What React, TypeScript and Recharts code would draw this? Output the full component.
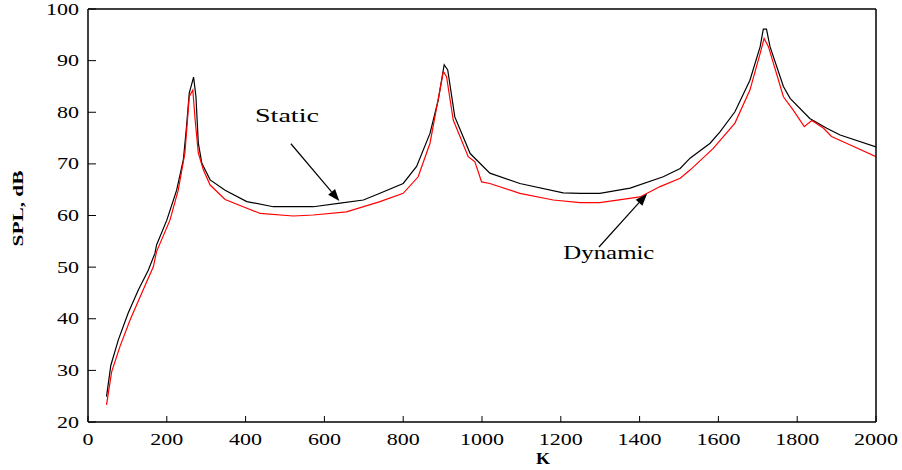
import React from "react";
import {
  LineChart,
  Line,
  XAxis,
  YAxis,
  ReferenceLine,
  ReferenceDot,
  Label,
} from "recharts";

// Static response: wavenumber K and sound pressure level (dB)
const staticK = [
  47, 58, 77, 102, 128, 153, 170, 174, 200, 225, 242, 250, 257, 268, 274, 280,
  289, 310, 348, 403, 470, 572, 640, 699, 741, 800, 834, 868, 889, 904, 913,
  931, 970, 1020, 1096, 1206, 1249, 1299, 1376, 1460, 1503, 1528, 1579, 1604,
  1642, 1680, 1706, 1714, 1722, 1731, 1765, 1782, 1832, 1875, 1909, 2000,
];
const staticSpl = [
  24.9, 31.0, 35.9, 41.1, 45.6, 49.4, 52.7, 54.3, 59.1, 64.9, 70.8, 77.2, 83.7,
  86.8, 83.0, 74.0, 70.1, 66.9, 64.9, 62.7, 61.7, 61.7, 62.4, 63.0, 64.3, 66.2,
  69.5, 75.9, 82.4, 89.2, 88.2, 79.1, 72.0, 68.2, 66.2, 64.4, 64.3, 64.3, 65.3,
  67.5, 69.1, 71.1, 74.0, 76.2, 80.1, 86.2, 92.7, 96.1, 96.1, 92.7, 85.0, 82.7,
  78.8, 76.9, 75.6, 73.3,
];

// Dynamic response
const dynamicK = [
  47, 60, 81, 107, 136, 166, 174, 208, 229, 246, 257, 266, 272, 280, 293, 310,
  348, 437, 521, 572, 656, 741, 800, 838, 868, 902, 910, 927, 965, 982, 999,
  1020, 1096, 1181, 1249, 1299, 1401, 1452, 1503, 1528, 1587, 1642, 1680, 1706,
  1716, 1727, 1765, 1790, 1818, 1837, 1867, 1887, 1925, 2000,
];
const dynamicSpl = [
  23.3, 29.7, 34.6, 39.8, 44.9, 50.1, 53.0, 59.1, 64.9, 72.1, 83.0, 84.3, 78.5,
  72.1, 68.8, 65.9, 63.1, 60.4, 59.9, 60.1, 60.7, 62.7, 64.3, 67.5, 74.0, 87.9,
  86.9, 78.5, 71.4, 70.4, 66.5, 66.2, 64.3, 63.0, 62.5, 62.5, 63.6, 65.6, 67.2,
  68.8, 73.0, 77.9, 84.3, 91.4, 94.3, 92.7, 83.0, 80.4, 77.2, 78.4, 76.9, 75.3,
  74.0, 71.4,
];

const kTicks = [0, 200, 400, 600, 800, 1000, 1200, 1400, 1600, 1800, 2000];
const splTicks = [20, 30, 40, 50, 60, 70, 80, 90, 100];

// Annotation anchors in data coordinates
const staticLabel = { k: 505, spl: 78.1, text: "Static" };
const staticArrow = { fromK: 515, fromSpl: 73.9, toK: 638, toSpl: 62.8 };
const dynamicLabel = { k: 1322, spl: 51.6, text: "Dynamic" };
const dynamicArrow = { fromK: 1297, fromSpl: 53.9, toK: 1419, toSpl: 64.2 };

const staticData = staticK.map((k, i) => ({ k, spl: staticSpl[i] }));
const dynamicData = dynamicK.map((k, i) => ({ k, spl: dynamicSpl[i] }));

const FONT = "'Liberation Serif', 'Times New Roman', serif";
const DIGIT_W = 11;

const BottomTick = (props: any) => {
  const { x, y, payload } = props;
  const s = String(payload.value);
  return (
    <g>
      <line x1={x} y1={y} x2={x} y2={y - 6} stroke="#000" strokeWidth={1} />
      <text
        x={x}
        y={y + 23}
        textAnchor="middle"
        fontFamily={FONT}
        fontSize={16}
        fill="#000"
        textLength={s.length * DIGIT_W}
        lengthAdjust="spacingAndGlyphs"
      >
        {s}
      </text>
    </g>
  );
};

const TopTick = (props: any) => {
  const { x, y } = props;
  return <line x1={x} y1={y} x2={x} y2={y + 6} stroke="#000" strokeWidth={1} />;
};

const LeftTick = (props: any) => {
  const { x, y, payload } = props;
  const s = String(payload.value);
  return (
    <g>
      <line x1={x} y1={y} x2={x + 8} y2={y} stroke="#000" strokeWidth={1} />
      <text
        x={x - 9}
        y={y + 5.5}
        textAnchor="end"
        fontFamily={FONT}
        fontSize={16}
        fill="#000"
        textLength={s.length * DIGIT_W}
        lengthAdjust="spacingAndGlyphs"
      >
        {s}
      </text>
    </g>
  );
};

const RightTick = (props: any) => {
  const { x, y } = props;
  return <line x1={x} y1={y} x2={x - 8} y2={y} stroke="#000" strokeWidth={1} />;
};

const Arrow = (props: any) => {
  const { x1, y1, x2, y2 } = props;
  const dx = x2 - x1;
  const dy = y2 - y1;
  const len = Math.sqrt(dx * dx + dy * dy);
  const ux = dx / len;
  const uy = dy / len;
  const headL = 12;
  const headW = 4.5;
  const bx = x2 - ux * headL;
  const by = y2 - uy * headL;
  const pts = `${x2},${y2} ${bx - uy * headW},${by + ux * headW} ${bx + uy * headW},${by - ux * headW}`;
  return (
    <g>
      <line x1={x1} y1={y1} x2={bx} y2={by} stroke="#000" strokeWidth={1.2} />
      <polygon points={pts} fill="#000" />
    </g>
  );
};

const textShape = (text: string, width: number) => (props: any) => {
  const { cx, cy } = props;
  return (
    <text
      x={cx}
      y={cy}
      textAnchor="middle"
      fontFamily={FONT}
      fontSize={18}
      fill="#000"
      textLength={width}
      lengthAdjust="spacingAndGlyphs"
    >
      {text}
    </text>
  );
};

const YTitle = (props: any) => {
  const { viewBox } = props;
  const cx = viewBox.x + 18;
  const cy = viewBox.y + viewBox.height / 2 - 7;
  return (
    <text
      x={cx}
      y={cy}
      transform={`rotate(-90, ${cx}, ${cy})`}
      textAnchor="middle"
      dominantBaseline="central"
      fontFamily={FONT}
      fontWeight="bold"
      fontSize={15}
      fill="#000"
      textLength={76}
      lengthAdjust="spacingAndGlyphs"
    >
      SPL, dB
    </text>
  );
};

const XTitle = (props: any) => {
  const { viewBox } = props;
  const cx = viewBox.x + viewBox.width / 2 + 61;
  return (
    <text
      x={cx}
      y={viewBox.y + 42}
      textAnchor="middle"
      fontFamily={FONT}
      fontWeight="bold"
      fontSize={16}
      fill="#000"
      textLength={14}
      lengthAdjust="spacingAndGlyphs"
    >
      K
    </text>
  );
};

export default function App() {
  return (
    <div style={{ position: "absolute", left: 0, top: 0, background: "#fff" }}>
      <LineChart
        width={902}
        height={470}
        margin={{ top: 4, right: 16, bottom: 6, left: 0 }}
      >
        <XAxis
          dataKey="k"
          type="number"
          domain={[0, 2000]}
          ticks={kTicks}
          interval={0}
          allowDataOverflow
          height={42}
          tickSize={0}
          tickMargin={0}
          tickLine={false}
          axisLine={{ stroke: "#000", strokeWidth: 1.5 }}
          tick={<BottomTick />}
        >
          <Label content={<XTitle />} />
        </XAxis>
        <XAxis
          xAxisId="top"
          orientation="top"
          dataKey="k"
          type="number"
          domain={[0, 2000]}
          ticks={kTicks}
          interval={0}
          height={5}
          tickSize={0}
          tickMargin={0}
          tickLine={false}
          axisLine={{ stroke: "#000", strokeWidth: 1.5 }}
          tick={<TopTick />}
        />
        <YAxis
          type="number"
          domain={[20, 100]}
          ticks={splTicks}
          interval={0}
          allowDataOverflow
          width={88}
          tickSize={0}
          tickMargin={0}
          tickLine={false}
          axisLine={{ stroke: "#000", strokeWidth: 1.5 }}
          tick={<LeftTick />}
        >
          <Label content={<YTitle />} />
        </YAxis>
        <YAxis
          yAxisId="right"
          orientation="right"
          type="number"
          domain={[20, 100]}
          ticks={splTicks}
          interval={0}
          width={10}
          tickSize={0}
          tickMargin={0}
          tickLine={false}
          axisLine={{ stroke: "#000", strokeWidth: 1.5 }}
          tick={<RightTick />}
        />
        <Line
          data={staticData}
          dataKey="spl"
          type="linear"
          stroke="#000000"
          strokeWidth={1.2}
          dot={false}
          isAnimationActive={false}
        />
        <Line
          data={dynamicData}
          dataKey="spl"
          type="linear"
          stroke="#ff0000"
          strokeWidth={1.2}
          dot={false}
          isAnimationActive={false}
        />
        <ReferenceLine
          segment={[
            { x: staticArrow.fromK, y: staticArrow.fromSpl },
            { x: staticArrow.toK, y: staticArrow.toSpl },
          ]}
          shape={Arrow}
        />
        <ReferenceLine
          segment={[
            { x: dynamicArrow.fromK, y: dynamicArrow.fromSpl },
            { x: dynamicArrow.toK, y: dynamicArrow.toSpl },
          ]}
          shape={Arrow}
        />
        <ReferenceDot
          x={staticLabel.k}
          y={staticLabel.spl}
          r={0}
          shape={textShape(staticLabel.text, 64)}
        />
        <ReferenceDot
          x={dynamicLabel.k}
          y={dynamicLabel.spl}
          r={0}
          shape={textShape(dynamicLabel.text, 91)}
        />
      </LineChart>
    </div>
  );
}
